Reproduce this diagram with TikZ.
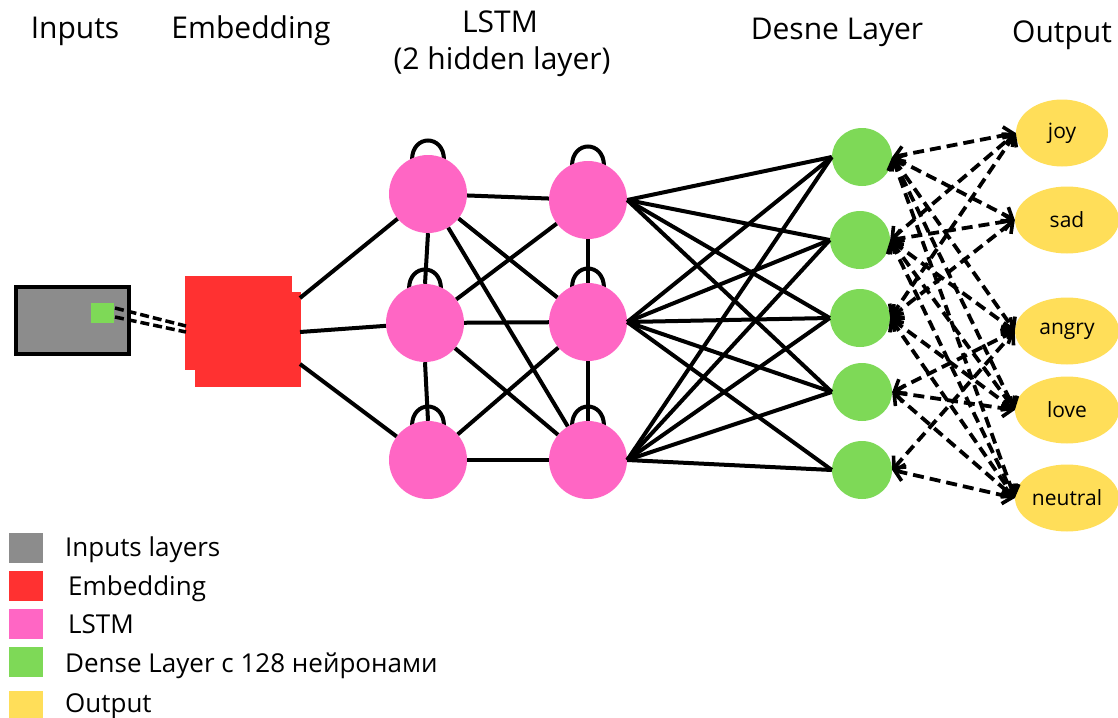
\documentclass[tikz,border=0pt]{standalone}
\usepackage{fontspec}
\setmainfont{Open Sans}
\usetikzlibrary{arrows.meta,shapes.geometric}
\definecolor{ingray}{HTML}{8C8C8C}
\definecolor{embred}{HTML}{FF3131}
\definecolor{lstmpink}{HTML}{FF66C4}
\definecolor{densegreen}{HTML}{7ED957}
\definecolor{outyellow}{HTML}{FFDE59}
\tikzset{
  header/.style={anchor=base,font=\fontsize{30}{36}\selectfont},
  legtext/.style={anchor=base west,inner sep=0pt,font=\fontsize{26}{30}\selectfont},
  legbox/.style={minimum width=34pt,minimum height=30pt,inner sep=0pt},
  lstm/.style={circle,fill=lstmpink,minimum size=78pt,inner sep=0pt},
  dense/.style={ellipse,fill=densegreen,minimum width=60pt,minimum height=58pt,inner sep=0pt},
  outnode/.style={ellipse,fill=outyellow,minimum width=104pt,minimum height=67pt,inner sep=0pt,
    font=\fontsize{21}{25}\selectfont},
  link/.style={line width=4pt},
  selfloop/.style={line width=4pt},
  barb/.tip={Straight Barb[length=9pt,width=17pt,line width=3.6pt]},
  dlink/.style={line width=3.8pt,dash pattern=on 11pt off 6pt,barb-barb},
  inlink/.style={line width=3.5pt,dash pattern=on 9pt off 4pt}
}
\begin{document}
\begin{tikzpicture}[x=1pt,y=-1pt]
\useasboundingbox (0,0) rectangle (1118,717);

% column headers
\node[header] (hIn)   at (75,38)   {Inputs};
\node[header] (hEmb)  at (251,38)  {Embedding};
\node[header] (hL1)   at (500,33)  {LSTM};
\node[header] (hL2)   at (502,70)  {(2 hidden layer)};
\node[header] (hDen)  at (837,40)  {Desne Layer};
\node[header] (hOut)  at (1062,42) {Output};

% input block with the highlighted token
\node[draw=black,line width=4pt,fill=ingray,minimum width=113pt,minimum height=67pt,inner sep=0pt] (inbox) at (72,320) {};
\node[fill=densegreen,minimum width=23pt,minimum height=20pt,inner sep=0pt] (tok) at (102.5,313) {};

% embedding block
\node[fill=embred,minimum width=106pt,minimum height=95pt,inner sep=0pt] (emb2) at (248,339.5) {};
\node[fill=embred,minimum width=107pt,minimum height=94pt,inner sep=0pt] (emb) at (238.5,323) {};

\coordinate (ta) at (115,308);
\coordinate (tb) at (115,317);
\coordinate (ea) at (186,326);
\coordinate (eb) at (186,332);
\draw[inlink] (ta) -- (ea);
\draw[inlink] (tb) -- (eb);

\coordinate (e1) at (300,298);
\coordinate (e2) at (300,332);
\coordinate (e3) at (300,364);

% LSTM cells: self loops, drawn behind the cells
\foreach \n/\x/\y in {t1/428/194, m1/425/323, b1/428/460, t2/588/200, m2/588/322, b2/588/460}{
  \pgfmathsetmacro{\lx}{\x-16}
  \pgfmathsetmacro{\rx}{\x+16}
  \pgfmathsetmacro{\ly}{\y-34}
  \coordinate (\n l) at (\lx,\ly);
  \coordinate (\n r) at (\rx,\ly);
  \draw[selfloop] (\n l) .. controls +(0pt,26pt) and +(0pt,26pt) .. (\n r);
}
\node[lstm] (t1) at (428,194) {};
\node[lstm] (m1) at (425,323) {};
\node[lstm] (b1) at (428,460) {};
\node[lstm] (t2) at (588,200) {};
\node[lstm] (m2) at (588,322) {};
\node[lstm] (b2) at (588,460) {};

% dense layer
\node[dense] (d1) at (862,157) {};
\node[dense] (d2) at (860,240) {};
\node[dense] (d3) at (860,318) {};
\node[dense] (d4) at (862,392) {};
\node[dense] (d5) at (862,470) {};

% output classes
\node[outnode,minimum width=92pt] (joy) at (1062,133) {joy};
\node[outnode] (sad)     at (1067,220) {sad};
\node[outnode] (angry)   at (1067,331) {angry};
\node[outnode] (love)    at (1067,410) {love};
\node[outnode] (neutral) at (1067,498) {neutral};

% embedding -> first LSTM layer
\draw[link] (e1) -- (t1);
\draw[link] (e2) -- (m1);
\draw[link] (e3) -- (b1);

% recurrent links inside each LSTM layer
\draw[link] (t1.south) -- (m1.north);
\draw[link] (m1.south) -- (b1.north);
\draw[link] (t2.south) -- (m2.north);
\draw[link] (m2.south) -- (b2.north);

% first LSTM layer -> second LSTM layer
\foreach \a/\b in {t1/t2, t1/m2, t1/b2, m1/t2, m1/m2, m1/b2, b1/m2, b1/b2}
  \draw[link] (\a) -- (\b);

% second LSTM layer -> dense layer
\foreach \a/\b in {t2/d1, t2/d2, t2/d3, t2/d4,
                   m2/d1, m2/d2, m2/d3, m2/d4, m2/d5,
                   b2/d1, b2/d2, b2/d3, b2/d4, b2/d5}
  \draw[link] (\a.east) -- (\b.west);

% dense layer <-> outputs
\foreach \a/\b in {d1/joy, d1/sad, d1/angry, d1/love, d1/neutral,
                   d2/joy, d2/sad, d2/angry, d2/love, d2/neutral,
                   d3/joy, d3/sad, d3/love, d3/neutral,
                   d4/angry, d4/love, d4/neutral,
                   d5/angry, d5/neutral}
  \draw[dlink] (\a.east) -- (\b.west);

% legend
\node[legbox,fill=ingray]     (k1) at (26,548) {};
\node[legbox,fill=embred]     (k2) at (26,586) {};
\node[legbox,fill=lstmpink]   (k3) at (26,624) {};
\node[legbox,fill=densegreen] (k4) at (26,662) {};
\node[legbox,fill=outyellow]  (k5) at (26,706) {};
\node[legtext] (l1) at (65,556) {Inputs layers};
\node[legtext] (l2) at (68,595) {Embedding};
\node[legtext] (l3) at (68,633) {LSTM};
\node[legtext] (l4) at (65,672) {Dense Layer с 128 нейронами};
\node[legtext] (l5) at (65,712) {Output};
\end{tikzpicture}
\end{document}
